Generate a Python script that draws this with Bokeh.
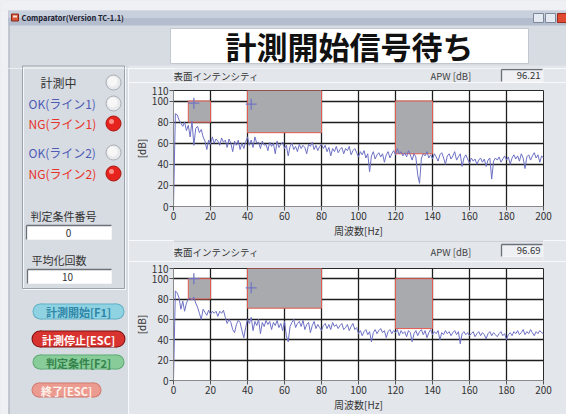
from bokeh.plotting import figure
from bokeh.layouts import column, row
from bokeh.models import Range1d, FixedTicker
from bokeh.embed import file_html
from bokeh.resources import INLINE
from bokeh.core.properties import value

# ---------------- data ----------------
window_title = "Comparator(Version TC-1.1)"
status_text = "計測開始信号待ち"
chart_title = "表面インテンシティ"
apw_label = "APW [dB]"
apw_values = ["96.21", "96.69"]
x_label = "周波数[Hz]"
y_label = "[dB]"
x_ticks = [0, 20, 40, 60, 80, 100, 120, 140, 160, 180, 200]
y_ticks = [0, 20, 40, 60, 80, 100, 110]

indicator_labels = ["計測中", "OK(ライン1)", "NG(ライン1)", "OK(ライン2)", "NG(ライン2)"]
indicator_on = [False, False, True, False, True]
field_labels = ["判定条件番号", "平均化回数"]
field_values = ["0", "10"]
button_labels = ["計測開始[F1]", "計測停止[ESC]", "判定条件[F2]", "終了[ESC]"]

# judgement windows (Hz / dB)
win1_left = [8, 40, 120]
win1_right = [20, 80, 140]
win1_bottom = [80, 70, 50]
win1_top = [100, 110, 100]
win2_left = [8, 40, 120]
win2_right = [20, 80, 140]
win2_bottom = [80, 71, 51]
win2_top = [100, 110, 100]

peak1_hz = [11, 42]
peak1_db = [98, 97]
peak2_hz = [11, 42]
peak2_db = [100, 91]

freq_step = 1.0
spec1_db = [
    0, 88, 87, 82, 79, 76, 80, 72, 77, 66,
    81, 58, 74, 76, 70, 73, 66, 62, 54, 63,
    59, 66, 60, 64, 62, 58, 65, 61, 63, 56,
    64, 60, 52, 62, 58, 63, 54, 60, 55, 61,
    66, 58, 63, 56, 66, 60, 61, 55, 62, 58,
    59, 53, 61, 57, 60, 50, 62, 56, 59, 61,
    55, 58, 48, 57, 60, 54, 57, 52, 59, 55,
    58, 56, 50, 59, 57, 61, 54, 58, 53, 57,
    59, 55, 58, 52, 56, 48, 55, 52, 57, 51,
    54, 56, 50, 55, 53, 57, 49, 53, 55, 51,
    47, 52, 49, 53, 46, 50, 33, 48, 52, 45,
    49, 51, 47, 50, 42, 49, 52, 46, 50, 53,
    49, 55, 50, 52, 48, 51, 47, 53, 49, 44,
    50, 47, 30, 22, 46, 50, 48, 52, 46, 49,
    45, 50, 47, 43, 49, 51, 46, 40, 48, 50,
    45, 48, 52, 44, 47, 50, 38, 46, 49, 45,
    41, 46, 43, 45, 40, 44, 46, 42, 45, 38,
    44, 46, 26, 43, 46, 44, 47, 42, 45, 48,
    44, 47, 40, 46, 49, 45, 48, 43, 50, 46,
    36, 47, 49, 44, 48, 51, 46, 49, 42, 48,
    46,
]
spec2_db = [
    0, 88, 86, 81, 70, 78, 68, 76, 80, 81,
    79, 82, 76, 72, 66, 60, 70, 67, 64, 69,
    65, 68, 66, 68, 63, 68, 66, 69, 62, 56,
    60, 57, 50, 47, 55, 59, 57, 49, 42, 52,
    60, 56, 62, 49, 58, 54, 60, 46, 57, 53,
    59, 55, 58, 50, 57, 54, 59, 52, 56, 49,
    58, 44, 38, 53, 57, 60, 52, 56, 58, 53,
    59, 50, 55, 57, 47, 54, 58, 51, 55, 52,
    49, 54, 56, 51, 55, 50, 57, 53, 55, 51,
    54, 56, 50, 52, 55, 49, 53, 56, 50, 52,
    46, 49, 44, 48, 50, 45, 48, 38, 47, 50,
    46, 49, 51, 47, 49, 42, 48, 50, 46, 49,
    47, 50, 44, 49, 46, 48, 43, 49, 47, 38,
    46, 49, 44, 48, 50, 45, 49, 42, 47, 50,
    45, 48, 46, 49, 40, 47, 45, 49, 46, 48,
    44, 47, 49, 45, 48, 36, 46, 48, 45, 47,
    44, 46, 48, 43, 46, 48, 44, 47, 45, 41,
    46, 48, 44, 47, 45, 43, 46, 48, 44, 46,
    40, 45, 47, 44, 48, 46, 49, 45, 47, 50,
    45, 48, 46, 50, 47, 44, 48, 46, 49, 47,
    46,
]

# ---------------- styles ----------------
JP = "Noto Sans CJK JP"
WIN_BG = "#d7dbe2"
PANEL_BG = "#e3e6eb"
OUTER_BG = "#eef0f3"
TXT = "#333333"
CHART_W = 438
BORDER_L = 45
BORDER_R = 23
FRAME_X0 = 173
FRAME_X1 = 543
TOP_H = 68


def chrome(x0, x1, y0, y1, bg):
    p = figure(width=x1 - x0, height=y1 - y0,
               x_range=Range1d(x0, x1), y_range=Range1d(y1, y0),
               x_axis_location=None, y_axis_location=None,
               output_backend="svg", toolbar_location=None, min_border=0)
    p.grid.visible = False
    p.outline_line_color = None
    p.background_fill_color = bg
    p.border_fill_color = bg
    return p


def jtext(p, x, y, t, size, color=TXT, align="left", style="normal"):
    p.text(x=x, y=y, text=t, text_font=value(JP), text_font_size=size,
           text_color=color, text_align=align, text_baseline="middle",
           text_font_style=style)


def sunken(p, x0, x1, y0, y1, fill):
    p.quad(left=[x0], right=[x1], top=[y0], bottom=[y1], fill_color=fill,
           line_color="#f4f5f7", line_width=1)
    p.segment(x0=[x0, x0], y0=[y0, y0], x1=[x1, x0], y1=[y0, y1],
              line_color="#6c7078", line_width=1.3)


def group_box(p):
    p.quad(left=[23], right=[125], top=[66.5], bottom=[289], fill_color=None, line_color="#f6f7f9")
    p.quad(left=[22], right=[124], top=[65.5], bottom=[288], fill_color=None, line_color="#9ba1ab")


def window_edge(p, y0, y1):
    p.quad(left=[0], right=[8], top=[y0], bottom=[y1], fill_color=OUTER_BG, line_color=None)
    p.segment(x0=[8.5], y0=[y0], x1=[8.5], y1=[y1], line_color="#a3a9b5", line_width=1)


# ---------------- top: title bar + status ----------------
top = chrome(0, 566, 0, TOP_H, WIN_BG)
top.quad(left=[0], right=[566], top=[0], bottom=[10], fill_color=OUTER_BG, line_color=None)
window_edge(top, 10, TOP_H)
top.quad(left=[0], right=[8], top=[0], bottom=[10], fill_color=OUTER_BG, line_color=None)
top.quad(left=[8], right=[566], top=[10], bottom=[17.5], fill_color="#c9d0dd", line_color=None)
top.quad(left=[8], right=[566], top=[17.5], bottom=[25], fill_color="#b3bdce", line_color=None)
top.quad(left=[11], right=[18], top=[13.5], bottom=[20.5], fill_color="#d8573a", line_color="#8a2a1a")
top.quad(left=[12.5], right=[16.5], top=[15], bottom=[17], fill_color="#f6e2d8", line_color=None)
jtext(top, [21], [17.2], [window_title], "7.5px", "#1c2030", style="bold")
top.quad(left=[533, 545], right=[543, 555], top=[13, 13], bottom=[22, 22],
         fill_color="#e4e9f2", line_color="#7d889b")
top.quad(left=[557], right=[567], top=[13], bottom=[22], fill_color="#e04a32", line_color="#9a2a1a")
top.quad(left=[170], right=[528], top=[28], bottom=[63], fill_color="#ffffff", line_color="#c3c7cf")
jtext(top, [349], [45], [status_text], "31px", "#111111", align="center", style="bold")
group_box(top)
top.quad(left=[128], right=[566], top=[65], bottom=[TOP_H], fill_color=PANEL_BG, line_color=None)

# ---------------- left panel ----------------
lp = chrome(0, 128, TOP_H, 414, WIN_BG)
window_edge(lp, TOP_H, 414)
group_box(lp)

ind_y = [82, 103, 123, 152, 173]
ind_x = [40, 28, 28, 28, 28]
ind_col = [TXT, "#4d5db6", "#e8332b", "#4d5db6", "#e8332b"]
jtext(lp, ind_x, ind_y, indicator_labels, "12px", ind_col)
on_y = [y for y, s in zip(ind_y, indicator_on) if s]
off_y = [y for y, s in zip(ind_y, indicator_on) if not s]
lp.circle(x=[113] * len(off_y), y=off_y, radius=7.5, fill_color="#e9eaec", line_color="#a9adb4")
lp.circle(x=[112] * len(off_y), y=[v - 1 for v in off_y], radius=5, fill_color="#f7f7f8", line_color=None)
lp.circle(x=[113] * len(on_y), y=on_y, radius=7.5, fill_color="#e6231c", line_color="#a81812")
lp.circle(x=[111] * len(on_y), y=[v - 2 for v in on_y], radius=2.5, fill_color="#ff8f86", line_color=None)

jtext(lp, [30], [215], [field_labels[0]], "11px")
sunken(lp, 26, 111, 225, 239, "#ffffff")
jtext(lp, [68], [232], [field_values[0]], "10px", align="center")
jtext(lp, [31], [259], [field_labels[1]], "11px")
sunken(lp, 27, 111, 269, 283, "#ffffff")
jtext(lp, [67], [276], [field_values[1]], "10px", align="center")

btn_box = [(33, 123, 304, 318), (32, 124, 331, 346), (33, 123, 355, 368), (32, 100, 383, 396)]
btn_fill = ["#8fd3e2", "#d8332f", "#88cd99", "#ec9b90"]
btn_edge = ["#5fb0c6", "#7e1414", "#5daa72", "#cf7a70"]
btn_text = ["#2f86a8", "#ffffff", "#34834b", "#fff3ee"]


def pill(p, x0, x1, y0, y1, fill):
    r = (y1 - y0) / 2
    cy = (y0 + y1) / 2
    p.quad(left=[x0 + r], right=[x1 - r], top=[y0], bottom=[y1], fill_color=fill, line_color=None)
    p.circle(x=[x0 + r, x1 - r], y=[cy, cy], radius=r, fill_color=fill, line_color=None)


for (x0, x1, y0, y1), lab, f, e, tc in zip(btn_box, button_labels, btn_fill, btn_edge, btn_text):
    pill(lp, x0 - 1, x1 + 1, y0 - 1, y1 + 1, e)
    pill(lp, x0, x1, y0, y1, f)
    jtext(lp, [(x0 + x1) / 2], [(y0 + y1) / 2 + 0.5], [lab], "11px", tc, align="center", style="bold")


# ---------------- chart headers (frame aligned with the charts) ----------------
def header(y0, y1, ty, by0, by1, apw, sep):
    h = figure(width=CHART_W, height=y1 - y0,
               x_range=Range1d(FRAME_X0, FRAME_X1), y_range=Range1d(y1, y0),
               x_axis_location=None, y_axis_location=None,
               output_backend="svg", toolbar_location=None,
               min_border_left=BORDER_L, min_border_right=BORDER_R,
               min_border_top=0, min_border_bottom=0)
    h.grid.visible = False
    h.outline_line_color = None
    h.background_fill_color = PANEL_BG
    h.border_fill_color = PANEL_BG
    if sep:
        h.segment(x0=[FRAME_X0], y0=[y0 + 0.5], x1=[FRAME_X1], y1=[y0 + 0.5], line_color="#b9bdc5")
    jtext(h, [173], [ty], [chart_title], "9.5px", TXT)
    jtext(h, [430], [ty], [apw_label], "9.5px", "#444444")
    sunken(h, 501, 542, by0, by1, "#eef0f4")
    jtext(h, [540], [(by0 + by1) / 2], [apw], "9.5px", "#333333", align="right")
    return h


# ---------------- charts ----------------
def chart(db, wl, wr, wb, wt, px, py, height, top_b, bottom_b):
    freq = [i * freq_step for i in range(len(db))]
    p = figure(width=CHART_W, height=height, x_range=Range1d(0, 200), y_range=Range1d(0, 110),
               output_backend="svg", toolbar_location=None,
               min_border_left=BORDER_L, min_border_right=BORDER_R,
               min_border_top=top_b, min_border_bottom=bottom_b)
    p.background_fill_color = "#ffffff"
    p.border_fill_color = PANEL_BG
    p.outline_line_color = "#2a2a2a"
    p.outline_line_width = 1
    p.xaxis.ticker = FixedTicker(ticks=x_ticks)
    p.yaxis.ticker = FixedTicker(ticks=y_ticks)
    p.xgrid.ticker = FixedTicker(ticks=x_ticks)
    p.ygrid.ticker = FixedTicker(ticks=y_ticks)
    p.grid.grid_line_color = "#1e1e1e"
    p.grid.grid_line_width = 1.3
    p.xaxis.axis_label = x_label
    p.yaxis.axis_label = y_label
    for ax in (p.xaxis, p.yaxis):
        ax.axis_label_text_font = JP
        ax.axis_label_text_font_size = "10px"
        ax.axis_label_text_font_style = "normal"
        ax.axis_label_text_color = TXT
        ax.axis_label_standoff = 0
        ax.major_label_text_font = JP
        ax.major_label_text_font_size = "10px"
        ax.major_label_text_color = TXT
        ax.axis_line_color = "#8a8a8a"
        ax.major_tick_line_color = "#555555"
        ax.major_tick_out = 4
        ax.major_tick_in = 0
        ax.minor_tick_line_color = None
        ax.major_label_standoff = 1
    p.quad(left=wl, right=wr, bottom=wb, top=wt, fill_color="#a9aaad",
           line_color="#e25a50", line_width=1)
    p.line(freq, db, line_color="#6d70c4", line_width=1)
    p.scatter(px, py, marker="cross", size=11, line_color="#7276c2", line_width=1.3)
    return p


h1 = header(TOP_H, 82, 75, 69, 81, apw_values[0], False)
c1 = chart(spec1_db, win1_left, win1_right, win1_bottom, win1_top, peak1_hz, peak1_db, 158, 8, 28)
h2 = header(240, 261, 251, 244, 256, apw_values[1], True)
c2 = chart(spec2_db, win2_left, win2_right, win2_bottom, win2_top, peak2_hz, peak2_db, 153, 7, 26)

layout = column(top, row(lp, column(h1, c1, h2, c2)))

open("out.html", "w").write(file_html(layout, INLINE))
